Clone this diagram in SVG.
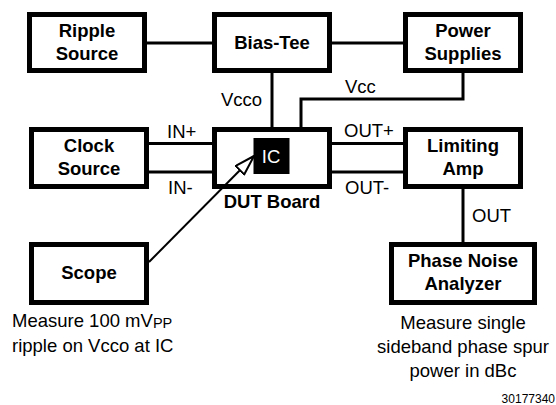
<svg xmlns="http://www.w3.org/2000/svg" width="556" height="405" viewBox="0 0 556 405">
<defs>
<style>
.box{fill:#fff;stroke:#000;stroke-width:5}
.wire{fill:none;stroke:#000;stroke-width:3}
.probe{fill:none;stroke:#000;stroke-width:2}
text{font-family:"Liberation Sans",Arial,sans-serif;font-size:18.5px;fill:#000}
.b{font-weight:bold;text-anchor:middle}
.c{text-anchor:middle}
</style>
<marker id="openArrow" viewBox="-1 -1 22 14" refX="20" refY="6" markerWidth="22" markerHeight="14" markerUnits="userSpaceOnUse" orient="auto">
<path d="M0,0 L20,6 L0,12 Z" fill="#fff" stroke="#000" stroke-width="2" stroke-linejoin="round"/>
</marker>
</defs>
<rect width="556" height="405" fill="#fff"/>

<g id="ripple-source">
<rect class="box" x="29.5" y="14.5" width="115" height="56"/>
<text class="b" x="87" y="37">Ripple</text>
<text class="b" x="87" y="60">Source</text>
</g>

<g id="bias-tee">
<rect class="box" x="214.5" y="14.5" width="115" height="56"/>
<text class="b" x="272" y="48.5">Bias-Tee</text>
</g>

<g id="power-supplies">
<rect class="box" x="405.5" y="14.5" width="115" height="56"/>
<text class="b" x="463" y="37">Power</text>
<text class="b" x="463" y="60">Supplies</text>
</g>

<g id="clock-source">
<rect class="box" x="31.5" y="129.5" width="115" height="57"/>
<text class="b" x="89" y="152">Clock</text>
<text class="b" x="89" y="175">Source</text>
</g>

<g id="dut-board">
<rect class="box" x="214.5" y="129.5" width="115" height="57"/>
<rect x="253.5" y="138" width="36" height="36" fill="#000"/>
<text class="c" x="271" y="162.5" style="fill:#fff">IC</text>
<text class="b" x="272" y="208">DUT Board</text>
</g>

<g id="limiting-amp">
<rect class="box" x="405.5" y="129.5" width="115" height="57"/>
<text class="b" x="463" y="152">Limiting</text>
<text class="b" x="463" y="175">Amp</text>
</g>

<g id="scope">
<rect class="box" x="31.5" y="244.5" width="115" height="58"/>
<text class="b" x="89" y="279">Scope</text>
<text x="12" y="327">Measure 100 mV<tspan style="font-size:14.5px" dy="1">PP</tspan></text>
<text x="12" y="352">ripple on Vcco at IC</text>
</g>

<g id="phase-noise-analyzer">
<rect class="box" x="391.5" y="244.5" width="143" height="58"/>
<text class="b" x="463" y="267">Phase Noise</text>
<text class="b" x="463" y="290">Analyzer</text>
<text class="c" x="463" y="329">Measure single</text>
<text class="c" x="463" y="353">sideband phase spur</text>
<text class="c" x="463" y="377">power in dBc</text>
</g>

<g id="connectors">
<line class="wire" x1="147" y1="43" x2="212" y2="43"/>
<line class="wire" x1="332" y1="43" x2="403" y2="43"/>
<line class="wire" x1="272" y1="73" x2="272" y2="127"/>
<path class="wire" d="M463,73 V99 H301 V127"/>
<line class="wire" x1="149" y1="143.5" x2="212" y2="143.5"/>
<line class="wire" x1="149" y1="172" x2="212" y2="172"/>
<line class="wire" x1="332" y1="143.5" x2="403" y2="143.5"/>
<line class="wire" x1="332" y1="172" x2="403" y2="172"/>
<line class="wire" x1="463" y1="189" x2="463" y2="242"/>
<line class="probe" x1="149" y1="262" x2="254" y2="156" marker-end="url(#openArrow)"/>
<text x="221" y="106">Vcco</text>
<text x="345" y="93">Vcc</text>
<text x="167" y="138">IN+</text>
<text x="168" y="194">IN-</text>
<text x="344" y="137">OUT+</text>
<text x="345" y="194">OUT-</text>
<text x="472" y="222">OUT</text>
</g>

<text x="555" y="403" style="font-size:12px;text-anchor:end">30177340</text>
</svg>
